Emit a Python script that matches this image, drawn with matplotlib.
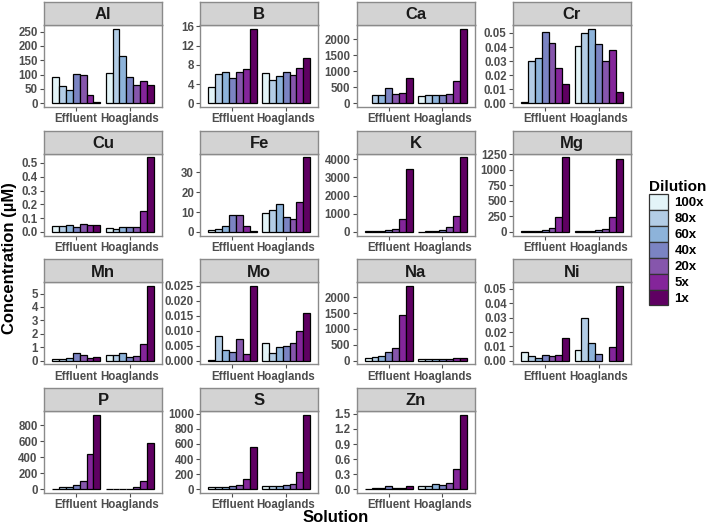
import numpy as np
import matplotlib.pyplot as plt
from matplotlib.patches import Patch

plt.rcParams['font.family'] = ['Liberation Sans', 'DejaVu Sans']

solutions = ['Effluent', 'Hoaglands']
dilutions = ['100x', '80x', '60x', '40x', '20x', '5x', '1x']
colors = ['#e3f4f8', '#b3cde6', '#8db3da', '#7b84c3', '#8656ac', '#84259a', '#5f0062']
nan = np.nan

elements = ['Al', 'B', 'Ca', 'Cr', 'Cu', 'Fe', 'K', 'Mg',
            'Mn', 'Mo', 'Na', 'Ni', 'P', 'S', 'Zn']

# [effluent, hoaglands], each ordered 100x -> 1x
al = [[90, 60, 45, 103, 98, 28, 5], [107, 260, 165, 93, 63, 77, 62]]
b = [[3.3, 6.1, 6.4, 5.3, 6.5, 7.2, 15.5], [6.2, 4.8, 5.7, 6.5, 5.8, 7.3, 9.5]]
ca = [[nan, 250, 250, 460, 300, 320, 780], [230, 270, 250, 250, 300, 700, 2320]]
cr = [[0.0008, 0.030, 0.032, 0.051, 0.043, 0.025, 0.014], [0.041, 0.050, 0.053, 0.042, 0.030, 0.038, 0.008]]
cu = [[0.04, 0.045, 0.05, 0.035, 0.06, 0.05, 0.05], [0.03, 0.025, 0.035, 0.035, 0.035, 0.15, 0.54]]
fe = [[0.8, 1.7, 2.8, 8.5, 8.5, 3.0, 0.7], [9.5, 11, 14.3, 7.3, 6.3, 15, 37.5]]
k = [[50, 30, 60, 110, 180, 730, 3450], [20, 40, 60, 100, 250, 860, 4100]]
mg = [[10, 10, 15, 35, 60, 245, 1200], [15, 15, 20, 25, 55, 245, 1180]]
mn = [[0.15, 0.15, 0.2, 0.55, 0.45, 0.2, 0.25], [0.4, 0.45, 0.55, 0.3, 0.35, 1.25, 5.55]]
mo = [[0.0001, 0.0083, 0.0037, 0.003, 0.0072, 0.0022, 0.0248], [0.006, 0.0026, 0.0045, 0.005, 0.0058, 0.010, 0.0158]]
na = [[100, 120, 150, 270, 400, 1430, 2350], [50, 60, 60, 50, 50, 70, 70]]
ni = [[0.006, 0.003, 0.002, 0.004, 0.0035, 0.004, 0.0155], [0.0075, 0.0295, 0.012, 0.005, nan, 0.0095, 0.052]]
p = [[2, 25, 30, 55, 110, 440, 930], [5, 5, 8, 10, 25, 110, 580]]
s = [[30, 30, 35, 45, 60, 135, 565], [50, 40, 40, 60, 75, 225, 985]]
zn = [[0.003, 0.02, 0.03, 0.06, 0.03, 0.03, 0.07], [0.06, 0.06, 0.1, 0.09, 0.12, 0.4, 1.48]]

values = [al, b, ca, cr, cu, fe, k, mg, mn, mo, na, ni, p, s, zn]

yticks = [
    [0, 50, 100, 150, 200, 250],
    [0, 4, 8, 12, 16],
    [0, 500, 1000, 1500, 2000],
    [0, 0.01, 0.02, 0.03, 0.04, 0.05],
    [0, 0.1, 0.2, 0.3, 0.4, 0.5],
    [0, 10, 20, 30],
    [0, 1000, 2000, 3000, 4000],
    [0, 250, 500, 750, 1000, 1250],
    [0, 1, 2, 3, 4, 5],
    [0, 0.005, 0.01, 0.015, 0.02, 0.025],
    [0, 500, 1000, 1500, 2000],
    [0, 0.01, 0.02, 0.03, 0.04, 0.05],
    [0, 200, 400, 600, 800],
    [0, 200, 400, 600, 800, 1000],
    [0, 0.3, 0.6, 0.9, 1.2, 1.5],
]

W, H = 709, 525
fig = plt.figure(figsize=(W / 100, H / 100), dpi=100)


def box(left, top, w, h):
    return [left / W, 1 - (top + h) / H, w / W, h / H]


grey = '#4d4d4d'
bw = 0.9 / len(dilutions)
xpos = np.arange(1, len(solutions) + 1)

for i, name in enumerate(elements):
    r, c = divmod(i, 4)
    left = 44 + 156.3 * c
    bottom = 107 + 128.7 * r
    ax = fig.add_axes(box(left, bottom - 82, 118, 82))
    st = fig.add_axes(box(left, bottom - 105, 118, 23))

    vals = np.array(values[i], dtype=float)
    for j in range(len(dilutions)):
        ax.bar(xpos - 0.45 + bw * (j + 0.5), vals[:, j], bw,
               color=colors[j], edgecolor='black', linewidth=0.9)

    top = np.nanmax(vals)
    ax.set_ylim(-0.05 * top, 1.05 * top)
    ax.set_xlim(0.4, 2.6)
    ax.set_xticks(xpos)
    ax.set_xticklabels(solutions)
    step = yticks[i][1] - yticks[i][0]
    dec = max(0, int(-np.floor(np.log10(step) + 1e-9)))
    ax.set_yticks(yticks[i])
    ax.set_yticklabels([f'{t:.{dec}f}' for t in yticks[i]])
    ax.tick_params(colors=grey, labelsize=8.3, length=3, width=0.8, pad=1.5)
    for lab in ax.get_xticklabels() + ax.get_yticklabels():
        lab.set_fontweight('bold')
    for sp in ax.spines.values():
        sp.set_color('#8a8a8a')
        sp.set_linewidth(1)

    st.set_facecolor('#d3d3d3')
    st.set_xticks([])
    st.set_yticks([])
    for sp in st.spines.values():
        sp.set_color('#8a8a8a')
        sp.set_linewidth(1)
    st.text(0.5, 0.45, name, transform=st.transAxes, ha='center', va='center',
            fontsize=12, fontweight='bold', color='#1a1a1a')

handles = [Patch(facecolor=col, edgecolor='#333333', linewidth=0.9) for col in colors]
leg = fig.legend(handles, dilutions, loc='upper left', bbox_to_anchor=(649 / W, 1 - 180 / H),
                 title='Dilution', frameon=False, handlelength=1.44, handleheight=1.48,
                 labelspacing=0, handletextpad=0.5, borderpad=0, borderaxespad=0,
                 alignment='left',
                 prop={'weight': 'bold', 'size': 9.5},
                 title_fontproperties={'weight': 'bold', 'size': 11})

fig.text(10 / W, 1 - 258 / H, 'Concentration (µM)', rotation=90, ha='center', va='center',
         fontsize=12, fontweight='bold')
fig.text(336 / W, 1 - 517 / H, 'Solution', ha='center', va='center',
         fontsize=12, fontweight='bold')

fig.savefig('out.png', dpi=100)
